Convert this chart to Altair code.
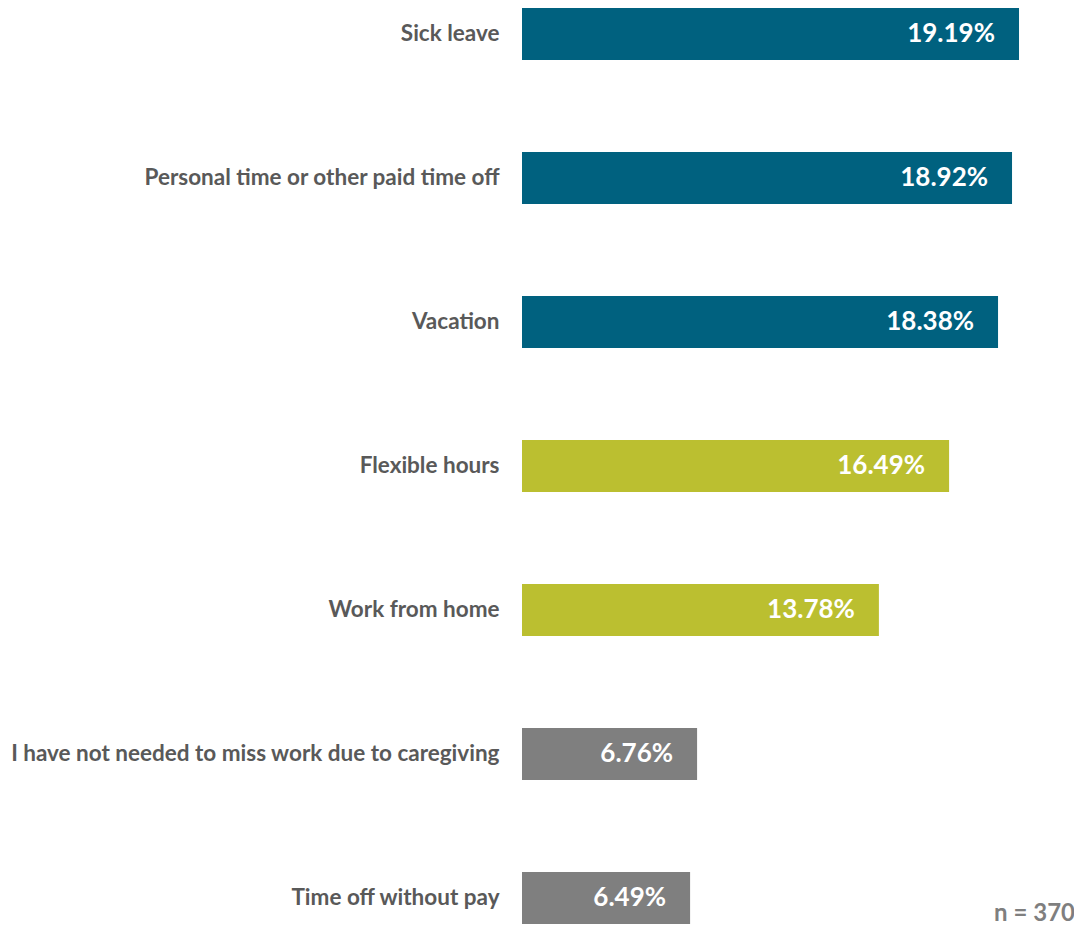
import altair as alt
import pandas as pd

categories = [
    "Sick leave",
    "Personal time or other paid time off",
    "Vacation",
    "Flexible hours",
    "Work from home",
    "I have not needed to miss work due to caregiving",
    "Time off without pay",
]
values = [19.19, 18.92, 18.38, 16.49, 13.78, 6.76, 6.49]
groups = ["leave", "leave", "leave", "flex", "flex", "other", "other"]
group_names = ["leave", "flex", "other"]
group_colors = ["#00617F", "#BBBF30", "#7F7F7F"]
note_text = "n = 370"

df = pd.DataFrame({"category": categories, "value": values, "group": groups})
df["label"] = df["value"].map(lambda v: f"{v:.2f}%")

FONT = "Lato"

y_enc = alt.Y(
    "category:N",
    sort=categories,
    scale=alt.Scale(paddingInner=0.639, paddingOuter=0),
    axis=alt.Axis(
        title=None,
        ticks=False,
        domain=False,
        grid=False,
        labelPadding=23,
        labelFont=FONT,
        labelFontWeight="bold",
        labelFontSize=22.5,
        labelColor="#595959",
        labelLimit=600,
    ),
)
x_enc = alt.X(
    "value:Q",
    scale=alt.Scale(domain=[0, 20], nice=False, zero=True),
    axis=None,
)

bars = alt.Chart(df).mark_bar().encode(
    y=y_enc,
    x=x_enc,
    color=alt.Color(
        "group:N",
        scale=alt.Scale(domain=group_names, range=group_colors),
        legend=None,
    ),
)

labels = alt.Chart(df).mark_text(
    align="right",
    baseline="middle",
    dx=-24,
    font=FONT,
    fontWeight="bold",
    fontSize=26,
    color="white",
).encode(y=alt.Y("category:N", sort=categories), x="value:Q", text="label:N")

note = alt.Chart(pd.DataFrame({"t": [note_text]})).mark_text(
    align="right",
    baseline="middle",
    font=FONT,
    fontWeight="bold",
    fontSize=24,
    color="#7F7F7F",
).encode(x=alt.value(553), y=alt.value(906), text="t:N")

chart = (
    alt.layer(bars, labels, note)
    .properties(
        width=518,
        height=916,
        background="white",
        autosize=alt.AutoSizeParams(type="none"),
        padding={"left": 514, "top": 0, "right": 34, "bottom": 6},
    )
    .configure_view(strokeWidth=0, stroke="transparent")
)

chart.save("out.html", embed_options={"renderer": "svg", "actions": False})
